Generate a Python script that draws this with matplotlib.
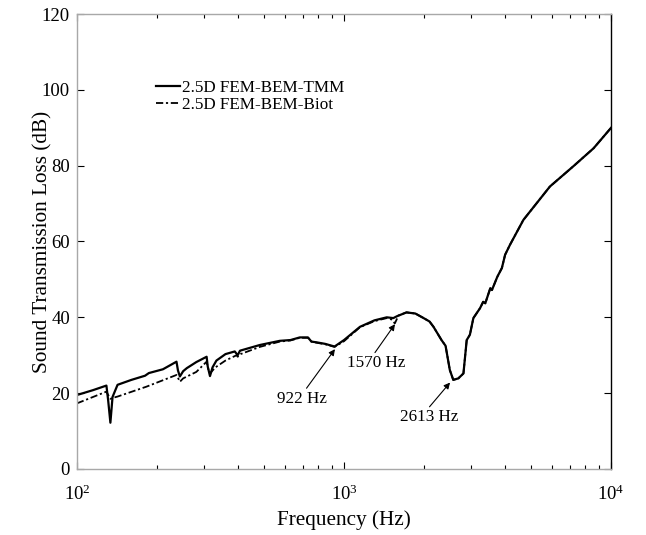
import matplotlib
matplotlib.use("Agg")
import matplotlib.pyplot as plt
import numpy as np

plt.rcParams["font.family"] = ["Liberation Serif", "DejaVu Serif"]
plt.rcParams["mathtext.fontset"] = "custom"
plt.rcParams["mathtext.rm"] = "Liberation Serif"
plt.rcParams["font.size"] = 12.3

# 2.5D FEM-BEM-TMM
tmm_freq = [100, 115, 129, 131, 133.5, 136, 142, 160, 180, 186, 210, 236, 239,
            243, 250, 258, 280, 306, 309, 315, 322, 333, 360, 390, 400, 408,
            484, 575, 630, 683, 733, 755, 790, 850, 922, 1000, 1148, 1300,
            1446, 1530, 1580, 1714, 1850, 1986, 2090, 2163, 2318, 2345, 2400,
            2490, 2565, 2680, 2800, 2880, 2960, 3050, 3230, 3320, 3380, 3530,
            3580, 3750, 3900, 4010, 4180, 4695, 5900, 7210, 8600, 10000]
tmm_stl = [19.5, 20.8, 22.0, 18.0, 12.2, 19.0, 22.2, 23.5, 24.6, 25.3, 26.3,
           28.3, 26.0, 24.4, 25.8, 26.6, 28.2, 29.6, 27.0, 24.5, 26.8, 28.6,
           30.3, 31.0, 30.0, 31.2, 32.7, 33.8, 34.0, 34.7, 34.7, 33.6, 33.4,
           33.0, 32.3, 34.0, 37.5, 39.2, 40.0, 39.8, 40.3, 41.3, 41.0, 39.8,
           38.9, 37.5, 34.0, 33.5, 32.5, 26.1, 23.5, 23.9, 25.2, 34.0, 35.4,
           39.8, 42.4, 44.1, 43.7, 47.7, 47.2, 50.7, 53.0, 56.5, 59.1, 65.7,
           74.5, 79.8, 84.6, 90.0]

# 2.5D FEM-BEM-Biot
biot_freq = [100, 129, 131, 133.5, 137, 142, 182, 236, 240, 243, 250, 280,
             306, 310, 315, 330, 360, 396, 400, 410, 484, 575, 630, 683, 733,
             755, 790, 850, 922, 1000, 1148, 1300, 1446, 1500, 1550, 1600,
             1714, 1850, 1986, 2090, 2163, 2318, 2345, 2400, 2490, 2565, 2680,
             2800, 2880, 2960, 3050, 3230, 3320, 3380, 3530, 3580, 3750, 3900,
             4010, 4180, 4695, 5900, 7210, 8600, 10000]
biot_stl = [17.3, 20.4, 19.5, 18.5, 18.8, 19.1, 21.7, 24.8, 23.8, 23.0, 23.9,
            25.6, 28.3, 26.5, 25.2, 26.8, 28.6, 30.0, 29.6, 30.3, 32.2, 33.6,
            33.9, 34.6, 34.6, 33.6, 33.3, 32.9, 32.2, 33.7, 37.4, 39.0, 39.8,
            39.5, 38.4, 40.5, 41.3, 41.0, 39.8, 38.9, 37.5, 34.0, 33.5, 32.5,
            26.1, 23.5, 23.9, 25.2, 34.0, 35.4, 39.8, 42.4, 44.1, 43.7, 47.7,
            47.2, 50.7, 53.0, 56.5, 59.1, 65.7, 74.5, 79.8, 84.6, 90.0]

# annotations: label, arrow tip (f, dB), arrow tail (f, dB), text centre (f, dB)
notes = [
    ("922 Hz", (925, 31.6), (724, 21.3), (694, 18.4)),
    ("1570 Hz", (1552, 38.2), (1306, 30.7), (1325, 28.0)),
    ("2613 Hz", (2495, 22.8), (2090, 16.4), (2090, 13.8)),
]

fig = plt.figure(figsize=(6.46, 5.35), dpi=100)
ax = fig.add_axes([0.119, 0.1234, 0.827, 0.8504])

ax.semilogx(tmm_freq, tmm_stl, "-", color="black", lw=1.6,
            label="2.5D FEM-BEM-TMM")
ax.semilogx(biot_freq, biot_stl, color="black", lw=1.3,
            linestyle=(0, (4, 1.5, 1.2, 1.5)), label="2.5D FEM-BEM-Biot")

for label, tip, tail, txt in notes:
    ax.annotate("", xy=tip, xytext=tail,
                arrowprops=dict(arrowstyle="-|>", color="black", lw=0.8,
                                mutation_scale=9, shrinkA=0, shrinkB=0))
    ax.text(*txt, label, ha="center", va="center")

ax.set_xlim(100, 10000)
ax.set_ylim(0, 120)
ax.set_yticks(np.arange(0, 121, 20))
ax.set_xlabel("Frequency (Hz)", fontsize=15.3, labelpad=5)
ax.set_ylabel("Sound Transmission Loss (dB)", fontsize=15.3)
ax.yaxis.set_label_coords(-0.046, 0.5)

ax.tick_params(which="both", direction="in", top=True, right=True,
               color="black", labelsize=13.5)
ax.tick_params(which="major", length=5, width=0.8, pad=5)
ax.tick_params(axis="x", which="major", pad=11)
ax.tick_params(which="minor", length=3, width=0.8)
for side in ["left", "top", "bottom"]:
    ax.spines[side].set_color("#a8a8a8")
ax.spines["right"].set_color("black")
for s in ax.spines.values():
    s.set_linewidth(1.0)

ax.legend(loc="upper left", bbox_to_anchor=(0.149, 0.855), frameon=False,
          borderaxespad=0, borderpad=0, handlelength=1.35, handletextpad=0.15,
          labelspacing=0.05)

fig.savefig("out.png", dpi=100)
